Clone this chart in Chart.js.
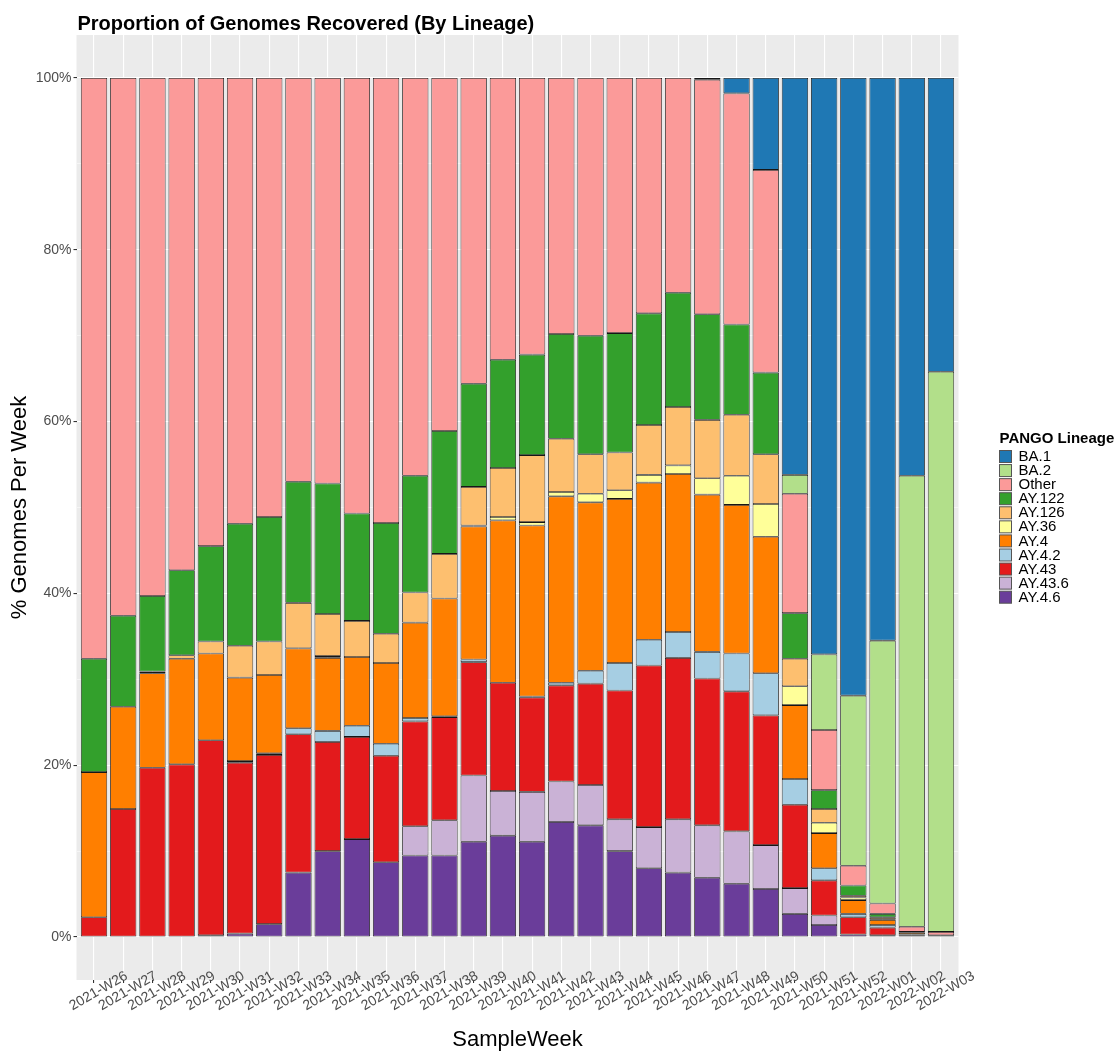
<!DOCTYPE html>
<html>
<head>
<meta charset="utf-8">
<script src="https://cdn.jsdelivr.net/npm/chart.js@4.4.1/dist/chart.umd.min.js"></script>
<style>
  html, body { margin: 0; padding: 0; background: #fff; }
  #wrap { width: 1114px; height: 1056px; }
</style>
</head>
<body>
<div id="wrap"><canvas id="lineages"></canvas></div>
<script>
const weeks = ["2021-W26", "2021-W27", "2021-W28", "2021-W29", "2021-W30", "2021-W31", "2021-W32",
  "2021-W33", "2021-W34", "2021-W35", "2021-W36", "2021-W37", "2021-W38", "2021-W39", "2021-W40",
  "2021-W41", "2021-W42", "2021-W43", "2021-W44", "2021-W45", "2021-W46", "2021-W47", "2021-W48",
  "2021-W49", "2021-W50", "2021-W51", "2021-W52", "2022-W01", "2022-W02", "2022-W03"];

// % of genomes per week, bottom of the stack first
const ay46 = [0, 0, 0, 0, 0.2, 0.4, 1.5, 7.5, 10.0, 11.4, 8.7, 9.5, 9.5, 11.1, 11.8, 11.1, 13.4, 13.0, 10.0, 8.0, 7.5, 6.9, 6.2, 5.6, 2.7, 1.4, 0.3, 0.2, 0.2, 0.2];
const ay436 = [0, 0, 0, 0, 0, 0, 0, 0, 0, 0, 0, 3.4, 4.1, 7.7, 5.2, 5.8, 4.7, 4.7, 3.7, 4.8, 6.2, 6.1, 6.1, 5.1, 3.0, 1.1, 0, 0, 0, 0];
const ay43 = [2.3, 14.9, 19.7, 20.1, 22.7, 19.9, 19.7, 16.1, 12.7, 11.9, 12.4, 12.2, 12.0, 13.2, 12.6, 11.0, 11.2, 11.8, 15.0, 18.8, 18.8, 17.1, 16.3, 15.1, 9.7, 4.1, 2.0, 0.9, 0.1, 0];
const ay42 = [0, 0, 0, 0, 0, 0.2, 0.2, 0.7, 1.3, 1.3, 1.4, 0.4, 0.1, 0.3, 0, 0.1, 0.3, 1.5, 3.2, 3.0, 3.0, 3.1, 4.4, 4.9, 3.0, 1.4, 0.4, 0.3, 0, 0];
const ay4 = [16.9, 11.9, 11.0, 12.3, 10.1, 9.7, 9.1, 9.3, 8.5, 8.0, 9.4, 11.1, 13.7, 15.5, 18.9, 19.9, 21.7, 19.6, 19.1, 18.3, 18.4, 18.3, 17.3, 15.9, 8.6, 4.1, 1.6, 0.6, 0.2, 0];
const ay36 = [0, 0, 0, 0, 0, 0, 0, 0, 0.2, 0, 0, 0, 0, 0.1, 0.4, 0.4, 0.5, 1.0, 1.0, 0.9, 1.0, 1.9, 3.4, 3.8, 2.2, 1.2, 0.3, 0.1, 0, 0];
const ay126 = [0, 0, 0.2, 0.4, 1.4, 3.7, 3.9, 5.3, 4.9, 4.2, 3.4, 3.5, 5.2, 4.5, 5.7, 7.8, 6.2, 4.6, 4.4, 5.8, 6.8, 6.8, 7.1, 5.8, 3.2, 1.6, 0.2, 0.2, 0.1, 0];
const ay122 = [13.2, 10.6, 8.8, 9.9, 11.1, 14.2, 14.5, 14.1, 15.2, 12.5, 12.9, 13.6, 14.3, 12.0, 12.6, 11.7, 12.2, 13.8, 13.9, 13.0, 13.3, 12.3, 10.5, 9.5, 5.3, 2.2, 1.2, 0.4, 0, 0];
const other = [67.6, 62.6, 60.3, 57.3, 54.5, 51.9, 51.1, 47.0, 47.2, 50.7, 51.8, 46.3, 41.1, 35.6, 32.8, 32.2, 29.8, 30.0, 29.7, 27.4, 25.0, 27.3, 26.9, 23.6, 13.9, 7.0, 2.3, 1.2, 0.6, 0.4];
const ba2 = [0, 0, 0, 0, 0, 0, 0, 0, 0, 0, 0, 0, 0, 0, 0, 0, 0, 0, 0, 0, 0, 0, 0, 0, 2.2, 8.8, 19.8, 30.6, 52.5, 65.2];
const ba1 = [0, 0, 0, 0, 0, 0, 0, 0, 0, 0, 0, 0, 0, 0, 0, 0, 0, 0, 0, 0, 0, 0.2, 1.8, 10.7, 46.2, 67.1, 71.9, 65.5, 46.3, 34.2];

const yTicks = [0, 10, 20, 30, 40, 50, 60, 70, 80, 90, 100];

const series = [
  { label: "AY.4.6", data: ay46, color: "#6A3D9A" },
  { label: "AY.43.6", data: ay436, color: "#CAB2D6" },
  { label: "AY.43", data: ay43, color: "#E31A1C" },
  { label: "AY.4.2", data: ay42, color: "#A6CEE3" },
  { label: "AY.4", data: ay4, color: "#FF7F00" },
  { label: "AY.36", data: ay36, color: "#FFFF99" },
  { label: "AY.126", data: ay126, color: "#FDBF6F" },
  { label: "AY.122", data: ay122, color: "#33A02C" },
  { label: "Other", data: other, color: "#FB9A99" },
  { label: "BA.2", data: ba2, color: "#B2DF8A" },
  { label: "BA.1", data: ba1, color: "#1F78B4" },
];

const datasets = series.map((s) => ({
  label: s.label,
  data: s.data.map((v) => (v > 0 ? v : null)), // empty segments are not drawn
  backgroundColor: s.color,
  borderColor: "#161616",
  borderWidth: 0.8,
  borderSkipped: false,
  barPercentage: 0.9,
  categoryPercentage: 1,
}));

// grey panel, title, rotated week labels and the legend
const ggLook = {
  id: "ggLook",
  beforeDraw(chart) {
    const { ctx, chartArea } = chart;
    ctx.save();
    ctx.fillStyle = "#FFFFFF";
    ctx.fillRect(0, 0, chart.width, chart.height);
    ctx.fillStyle = "#EBEBEB";
    ctx.fillRect(chartArea.left, chartArea.top, chartArea.right - chartArea.left, chartArea.bottom - chartArea.top);
    ctx.restore();
  },
  afterDraw(chart) {
    const { ctx, chartArea } = chart;
    const x = chart.scales.x;
    ctx.save();

    ctx.fillStyle = "#000000";
    ctx.font = "bold 20px 'Liberation Sans', Arial, sans-serif";
    ctx.textAlign = "left";
    ctx.textBaseline = "alphabetic";
    ctx.fillText("Proportion of Genomes Recovered (By Lineage)", chartArea.left + 1, 30);

    ctx.fillStyle = "#4D4D4D";
    ctx.font = "14px 'Liberation Sans', Arial, sans-serif";
    ctx.textAlign = "center";
    ctx.textBaseline = "top";
    weeks.forEach((w, i) => {
      const px = x.getPixelForValue(i + 1);
      ctx.save();
      ctx.translate(px + 1, chartArea.bottom + 5);
      ctx.rotate(-Math.PI / 6);
      ctx.fillText(w, 0, 0);
      ctx.restore();
    });

    // legend, BA.1 on top like ggplot
    const lx = 999.5;
    let ly = 456.5;
    ctx.fillStyle = "#000000";
    ctx.font = "bold 15px 'Liberation Sans', Arial, sans-serif";
    ctx.textAlign = "left";
    ctx.textBaseline = "alphabetic";
    ctx.fillText("PANGO Lineage", lx, 443);
    ctx.font = "15px 'Liberation Sans', Arial, sans-serif";
    ctx.textBaseline = "middle";
    chart.data.datasets.slice().reverse().forEach((ds) => {
      ctx.fillStyle = ds.backgroundColor;
      ctx.fillRect(lx, ly - 6, 12, 12);
      ctx.strokeStyle = "#555555";
      ctx.lineWidth = 1;
      ctx.strokeRect(lx, ly - 6, 12, 12);
      ctx.fillStyle = "#000000";
      ctx.fillText(ds.label, lx + 19, ly + 0.5);
      ly += 14.07;
    });
    ctx.restore();
  },
};

const ctxLineages = document.getElementById("lineages").getContext("2d");
new Chart(ctxLineages, {
  type: "bar",
  data: {
    labels: weeks.map((w, i) => i + 1),
    datasets: datasets,
  },
  options: {
    responsive: true,
    maintainAspectRatio: false,
    devicePixelRatio: 1,
    animation: false,
    layout: {
      padding: { top: 35, right: 155.5, left: 0, bottom: 0 },
    },
    scales: {
      x: {
        type: "linear",
        stacked: true,
        offset: false,
        min: 0.4,
        max: 30.6,
        afterBuildTicks: (scale) => {
          scale.ticks = weeks.map((w, i) => ({ value: i + 1 }));
        },
        afterFit: (scale) => {
          scale.height = 76;
        },
        grid: {
          offset: false,
          color: "#FFFFFF",
          lineWidth: 1.1,
          drawTicks: true,
          tickLength: 3,
          tickColor: "#333333",
        },
        border: { display: false },
        ticks: { display: false, autoSkip: false },
        title: {
          display: true,
          text: "SampleWeek",
          color: "#000000",
          font: { family: "'Liberation Sans', Arial, sans-serif", size: 22 },
          padding: { top: 0, bottom: 3 },
        },
      },
      y: {
        stacked: true,
        min: -5,
        max: 105,
        afterBuildTicks: (scale) => {
          scale.ticks = yTicks.map((v) => ({ value: v }));
        },
        afterFit: (scale) => {
          scale.width = 76.5;
        },
        grid: {
          color: "#FFFFFF",
          lineWidth: (c) => (c.tick && c.tick.value % 20 === 0 ? 1.1 : 0.5),
          tickLength: 3,
          tickColor: (c) => (c.tick && c.tick.value % 20 === 0 ? "#333333" : "rgba(0,0,0,0)"),
        },
        border: { display: false },
        ticks: {
          color: "#4D4D4D",
          padding: 2,
          font: { family: "'Liberation Sans', Arial, sans-serif", size: 14 },
          callback: (v) => (v % 20 === 0 ? v + "%" : ""),
        },
        title: {
          display: true,
          text: "% Genomes Per Week",
          color: "#000000",
          font: { family: "'Liberation Sans', Arial, sans-serif", size: 22 },
          padding: { top: 7, bottom: 0 },
        },
      },
    },
    plugins: {
      legend: { display: false },
      tooltip: { enabled: false },
    },
  },
  plugins: [ggLook],
});
</script>
</body>
</html>
